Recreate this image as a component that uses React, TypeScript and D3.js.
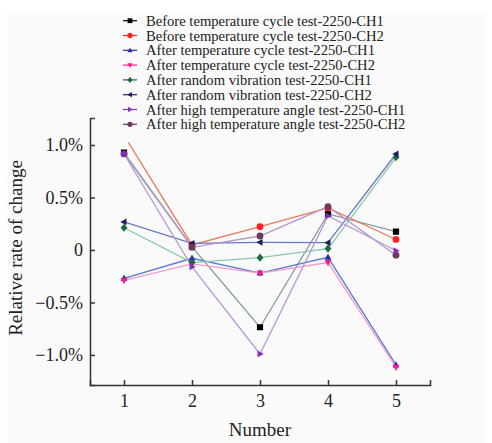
import { useEffect, useRef } from "react";
import * as d3 from "d3";

// x categories
const numbers = [1, 2, 3, 4, 5];

// relative rate of change, in %
const beforeCycleCh1 = [0.927, 0.03, -0.736, 0.343, 0.175];
const beforeCycleCh2 = [1.09, 0.048, 0.222, 0.4, 0.1];
const afterCycleCh1 = [-0.27, -0.079, -0.22, -0.07, -1.095];
const afterCycleCh2 = [-0.29, -0.133, -0.22, -0.12, -1.117];
const afterVibrationCh1 = [0.212, -0.12, -0.073, 0.013, 0.883];
const afterVibrationCh2 = [0.267, 0.063, 0.073, 0.07, 0.914];
const afterHighTempCh1 = [0.914, -0.16, -0.99, 0.324, -0.007];
const afterHighTempCh2 = [0.916, 0.025, 0.133, 0.413, -0.05];

const yTicks = [-1, -0.5, 0, 0.5, 1];

const series = [
  { name: "Before temperature cycle test-2250-CH1", values: beforeCycleCh1, marker: "square", color: "#000000", line: "#7f9c9c" },
  { name: "Before temperature cycle test-2250-CH2", values: beforeCycleCh2, marker: "circle", color: "#ff2020", line: "#f0785a" },
  { name: "After temperature cycle test-2250-CH1", values: afterCycleCh1, marker: "triUp", color: "#2b2ba8", line: "#5a78d8" },
  { name: "After temperature cycle test-2250-CH2", values: afterCycleCh2, marker: "triDown", color: "#ff1a8c", line: "#f59ac8" },
  { name: "After random vibration test-2250-CH1", values: afterVibrationCh1, marker: "diamond", color: "#1b6b3c", line: "#88c8a8" },
  { name: "After random vibration test-2250-CH2", values: afterVibrationCh2, marker: "triLeft", color: "#1c1c5e", line: "#6878c8" },
  { name: "After high temperature angle test-2250-CH1", values: afterHighTempCh1, marker: "triRight", color: "#8a2bc4", line: "#b698d8" },
  { name: "After high temperature angle test-2250-CH2", values: afterHighTempCh2, marker: "circle", color: "#6b3a5c", line: "#b898c4" },
];

// marks drawn so that the purple triangle sits on top at point 1
const drawOrder = [0, 1, 2, 3, 4, 5, 7, 6];

const markerPath = (kind: string, s: number) => {
  switch (kind) {
    case "square":
      return `M${-s},${-s}H${s}V${s}H${-s}Z`;
    case "triUp":
      return `M0,${-s * 1.2}L${s * 1.1},${s * 0.8}L${-s * 1.1},${s * 0.8}Z`;
    case "triDown":
      return `M0,${s * 1.2}L${s * 1.1},${-s * 0.8}L${-s * 1.1},${-s * 0.8}Z`;
    case "triLeft":
      return `M${-s * 1.2},0L${s * 0.8},${-s * 1.1}L${s * 0.8},${s * 1.1}Z`;
    case "triRight":
      return `M${s * 1.2},0L${-s * 0.8},${-s * 1.1}L${-s * 0.8},${s * 1.1}Z`;
    case "diamond":
      return `M0,${-s * 1.3}L${s * 1.1},0L0,${s * 1.3}L${-s * 1.1},0Z`;
    default:
      return d3.symbol(d3.symbolCircle, Math.PI * s * s * 1.2)() as string;
  }
};

export default function App() {
  const svgRef = useRef<SVGSVGElement | null>(null);

  useEffect(() => {
    const svgEl = svgRef.current;
    if (!svgEl) return;
    const width = 492;
    const height = 443;
    const svg = d3.select(svgEl);
    svg.selectAll("*").remove();
    svg.attr("width", width).attr("height", height);

    const font = "'Liberation Serif', 'Times New Roman', serif";

    svg.append("rect").attr("width", width).attr("height", height).attr("fill", "#ffffff");
    svg.append("rect").attr("x", 7).attr("y", 13).attr("width", 478).attr("height", 430).attr("fill", "#fafafa");

    const x = d3.scaleLinear().domain([0.5, 5.5]).range([90, 430]);
    const y = d3.scaleLinear().domain([-1.286, 1.257]).range([385, 118]);

    const axisColor = "#333333";

    // y axis
    const yAxis = svg
      .append("g")
      .attr("transform", `translate(${x(0.5)},0)`)
      .call(
        d3
          .axisLeft(y)
          .tickValues(yTicks)
          .tickSizeInner(-5)
          .tickSizeOuter(-5)
          .tickPadding(7)
          .tickFormat((d) => {
            const v = d as number;
            if (v === 0) return "0";
            return `${v < 0 ? "\u2212" : ""}${Math.abs(v).toFixed(1)}%`;
          })
      );
    yAxis.selectAll("path, line").attr("stroke", axisColor).attr("stroke-width", 1.5);
    yAxis.selectAll("text").attr("font-family", font).attr("font-size", 18).attr("fill", "#222");

    // x axis
    const xAxis = svg
      .append("g")
      .attr("transform", `translate(0,${y(-1.286)})`)
      .call(d3.axisBottom(x).tickValues(numbers).tickSizeInner(-5).tickSizeOuter(-5).tickPadding(9).tickFormat(d3.format("d")));
    xAxis.selectAll("path, line").attr("stroke", axisColor).attr("stroke-width", 1.5);
    xAxis.selectAll("text").attr("font-family", font).attr("font-size", 18).attr("fill", "#222");

    svg
      .append("text")
      .attr("x", 260)
      .attr("y", 436)
      .attr("text-anchor", "middle")
      .attr("font-family", font)
      .attr("font-size", 19)
      .attr("fill", "#222")
      .text("Number");

    svg
      .append("text")
      .attr("transform", `translate(22,${248}) rotate(-90)`)
      .attr("text-anchor", "middle")
      .attr("font-family", font)
      .attr("font-size", 19)
      .attr("fill", "#222")
      .text("Relative rate of change");

    // clip for data
    svg
      .append("clipPath")
      .attr("id", "plot-clip")
      .append("rect")
      .attr("x", x(0.5))
      .attr("y", y(1.025))
      .attr("width", x(5.5) - x(0.5))
      .attr("height", y(-1.286) - y(1.025));

    const plot = svg.append("g").attr("clip-path", "url(#plot-clip)");

    const line = d3
      .line<number>()
      .x((_, i) => x(numbers[i]))
      .y((d) => y(d));

    drawOrder.forEach((si) => {
      const s = series[si];
      plot
        .append("path")
        .attr("d", line(s.values))
        .attr("fill", "none")
        .attr("stroke", s.line)
        .attr("stroke-width", 1.3);
    });

    drawOrder.forEach((si) => {
      const s = series[si];
      plot
        .selectAll(null)
        .data(s.values)
        .enter()
        .append("path")
        .attr("transform", (d, i) => `translate(${x(numbers[i])},${y(d)})`)
        .attr("d", markerPath(s.marker, 3.1))
        .attr("fill", s.color);
    });

    // legend
    const legend = svg.append("g");
    series.forEach((s, i) => {
      const cy = 20.7 + i * 14.8;
      legend
        .append("line")
        .attr("x1", 123)
        .attr("x2", 137)
        .attr("y1", cy)
        .attr("y2", cy)
        .attr("stroke", s.color)
        .attr("stroke-width", 1.2);
      legend
        .append("path")
        .attr("transform", `translate(130,${cy})`)
        .attr("d", markerPath(s.marker, 2.4))
        .attr("fill", s.color);
      legend
        .append("text")
        .attr("x", 146)
        .attr("y", cy)
        .attr("dy", "0.35em")
        .attr("font-family", font)
        .attr("font-size", 14.6)
        .attr("fill", "#222")
        .text(s.name);
    });
  }, []);

  return <svg ref={svgRef} style={{ position: "absolute", left: 0, top: 0, width: 492, height: 443 }} />;
}
